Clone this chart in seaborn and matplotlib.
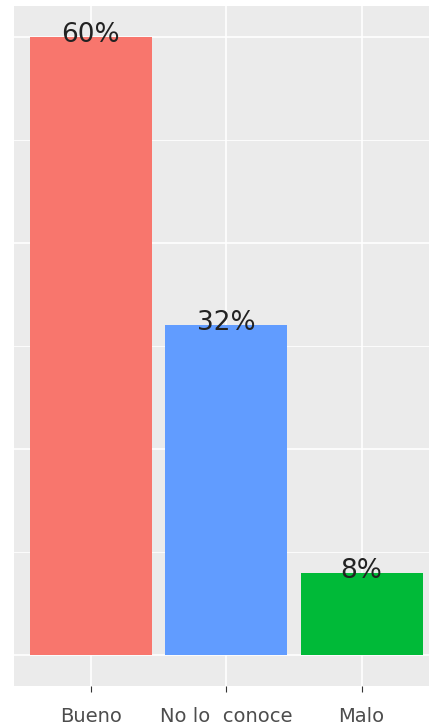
import matplotlib.pyplot as plt
import seaborn as sns
import pandas as pd

# Datos
categorias = ['Bueno', 'No lo  conoce', 'Malo']
porcentajes = [60, 32, 8]
colores = ['#F8766D', '#619CFF', '#00BA38']

df = pd.DataFrame({'Respuesta': categorias, 'Porcentaje': porcentajes})

fig = plt.figure(figsize=(4.29, 7.28), dpi=100)
# panel recortado a la derecha, como en la imagen original
ax = fig.add_axes([14 / 429, 42 / 728, 429 / 429, 680 / 728])
ax.set_facecolor('#EBEBEB')

sns.barplot(data=df, x='Respuesta', y='Porcentaje', hue='Respuesta',
            palette=colores, width=0.9, saturation=1, legend=False, ax=ax)

# Rejilla estilo ggplot
ax.set_axisbelow(True)
ax.set_yticks([0, 20, 40, 60])
ax.set_yticks([10, 30, 50], minor=True)
ax.grid(which='major', color='white', linewidth=1.2)
ax.grid(which='minor', axis='y', color='white', linewidth=0.6)

for i, v in enumerate(porcentajes):
    ax.text(i, v + 0.2, f'{v}%', ha='center', va='center', fontsize=19, color='#222222')

ax.set_xlim(-0.565, 2.6)
ax.set_ylim(-3, 63)
ax.set_xlabel('')
ax.set_ylabel('')
ax.set_yticklabels([])
ax.tick_params(axis='y', which='both', length=0)
ax.tick_params(axis='x', length=4, color='#333333', labelsize=14,
               labelcolor='#4D4D4D', pad=11)
for s in ax.spines.values():
    s.set_visible(False)

fig.savefig('out.png', dpi=100)
